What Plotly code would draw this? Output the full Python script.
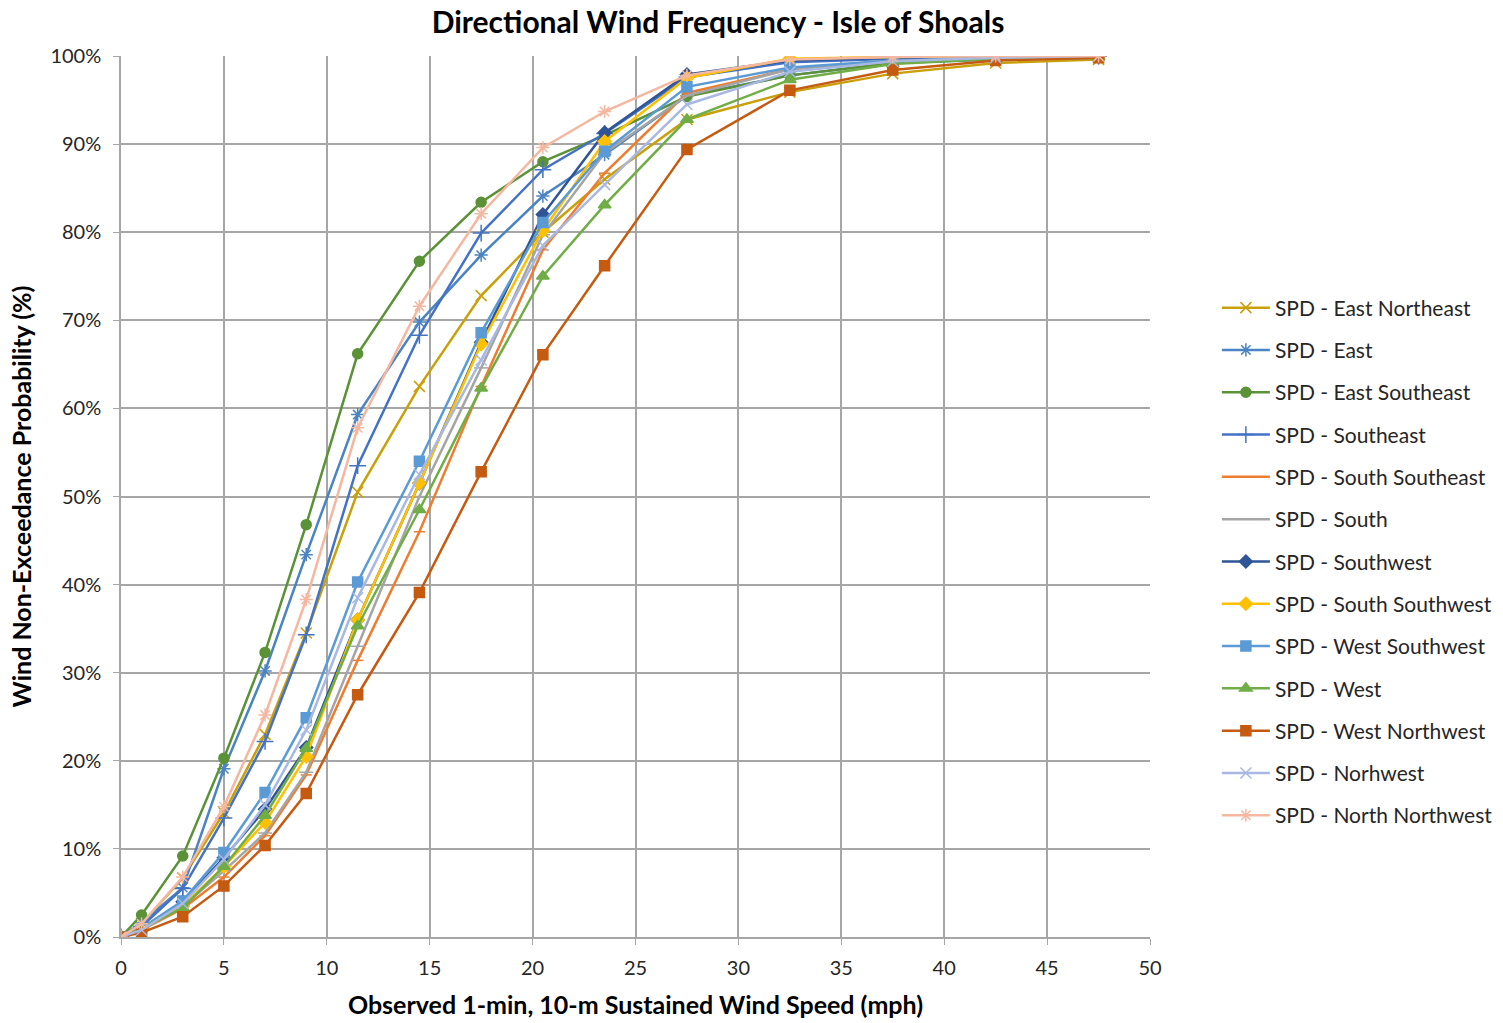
import plotly.graph_objects as go

# Wind speed bins (mph)
speed = [0, 1, 3, 5, 7, 9, 11.5, 14.5, 17.5, 20.5, 23.5, 27.5, 32.5, 37.5, 42.5, 47.5]

# Cumulative non-exceedance probability (%) by direction
east_northeast = [0, 1.5, 6.7, 14.1, 23.0, 34.5, 50.5, 62.5, 72.8, 80.0, 86.0, 92.8, 95.9, 98.0, 99.2, 99.6]
east = [0, 1.6, 5.6, 19.1, 30.2, 43.4, 59.3, 69.8, 77.4, 84.1, 88.8, 95.5, 97.8, 99.2, 99.6, 99.8]
east_southeast = [0, 2.5, 9.2, 20.3, 32.3, 46.8, 66.2, 76.7, 83.4, 88.0, 91.0, 95.4, 97.8, 99.2, 99.7, 99.9]
southeast = [0, 1.2, 5.5, 13.5, 22.2, 34.3, 53.5, 68.3, 79.9, 87.1, 91.2, 97.6, 99.3, 99.7, 99.9, 100]
south_southeast = [0, 0.8, 3.2, 6.8, 11.5, 18.4, 31.4, 46.0, 62.5, 78.0, 86.7, 95.8, 98.5, 99.5, 99.8, 100]
south = [0, 0.8, 3.5, 7.5, 11.8, 18.7, 33.0, 50.0, 64.6, 79.7, 89.0, 95.5, 98.5, 99.4, 99.8, 100]
southwest = [0, 1.0, 4.0, 9.0, 14.5, 21.5, 36.0, 51.5, 67.5, 82.0, 91.3, 97.9, 99.5, 99.8, 99.9, 100]
south_southwest = [0, 1.0, 3.5, 8.0, 13.0, 20.5, 36.0, 51.5, 67.3, 80.2, 90.3, 97.5, 99.7, 99.9, 100, 100]
west_southwest = [0, 1.0, 4.1, 9.6, 16.4, 24.9, 40.3, 54.0, 68.6, 81.1, 89.2, 96.5, 98.7, 99.5, 99.8, 100]
west = [0, 1.0, 3.3, 8.0, 13.8, 21.4, 35.3, 48.5, 62.3, 75.0, 83.1, 92.8, 97.3, 99.1, 99.7, 99.9]
west_northwest = [0, 0.5, 2.3, 5.8, 10.4, 16.3, 27.5, 39.1, 52.8, 66.1, 76.2, 89.4, 96.1, 98.4, 99.5, 99.8]
northwest = [0, 0.8, 3.8, 8.8, 15.0, 23.5, 38.5, 52.5, 65.5, 78.5, 85.4, 94.5, 98.2, 99.4, 99.8, 100]
north_northwest = [0, 1.5, 6.8, 14.8, 25.2, 38.3, 57.8, 71.6, 82.1, 89.6, 93.7, 97.8, 99.6, 99.9, 100, 100]

series = [
    ("SPD - East Northeast", east_northeast, "#C9A00A", "x-thin-open", 11),
    ("SPD - East", east, "#4A84C2", "asterisk-open", 11),
    ("SPD - East Southeast", east_southeast, "#5B9237", "circle", 10),
    ("SPD - Southeast", southeast, "#4472C4", "cross-thin-open", 12),
    ("SPD - South Southeast", south_southeast, "#ED7D31", "line-ew-open", 8),
    ("SPD - South", south, "#A5A5A5", "line-ew-open", 10),
    ("SPD - Southwest", southwest, "#2F5597", "diamond", 10),
    ("SPD - South Southwest", south_southwest, "#FFC000", "diamond", 10),
    ("SPD - West Southwest", west_southwest, "#5B9BD5", "square", 10),
    ("SPD - West", west, "#70AD47", "triangle-up", 11),
    ("SPD - West Northwest", west_northwest, "#C55A11", "square", 10),
    ("SPD - Norhwest", northwest, "#A9B8E2", "x-thin-open", 11),
    ("SPD - North Northwest", north_northwest, "#F4B7A0", "asterisk-open", 11),
]

fig = go.Figure()
for i, (name, vals, color, symbol, size) in enumerate(series):
    fig.add_trace(go.Scatter(
        x=speed,
        y=[v / 100 for v in vals],
        name=name,
        legendgroup=f"g{i}",
        mode="lines+markers",
        line=dict(color=color, width=2.5),
        marker=dict(symbol=symbol, size=size, color=color,
                    line=dict(color=color, width=1.5)),
    ))

grid = "#A6A6A6"
fig.update_layout(
    width=1503,
    height=1023,
    paper_bgcolor="white",
    plot_bgcolor="white",
    margin=dict(l=121, r=353, t=56, b=86, autoexpand=False),
    font=dict(family="Lato, 'Open Sans', sans-serif", color="#262626"),
    title=dict(
        text="<b>Directional Wind Frequency - Isle of Shoals</b>",
        x=718 / 1503,
        xanchor="center",
        y=1 - 22 / 1023,
        yanchor="middle",
        font=dict(size=30, color="#000000"),
    ),
    xaxis=dict(
        range=[0, 50],
        dtick=5,
        tick0=0,
        showgrid=True,
        gridcolor=grid,
        gridwidth=1.5,
        showline=True,
        linecolor=grid,
        linewidth=1.5,
        ticks="outside",
        ticklen=6,
        tickcolor=grid,
        zeroline=False,
        ticklabelstandoff=6,
        tickfont=dict(size=20, color="#262626"),
        title=dict(
            text="<b>Observed 1-min, 10-m Sustained Wind Speed (mph)</b>",
            font=dict(size=25, color="#000000"),
            standoff=19,
        ),
    ),
    yaxis=dict(
        range=[0, 1],
        dtick=0.1,
        tickformat=".0%",
        showgrid=True,
        gridcolor=grid,
        gridwidth=1.5,
        showline=True,
        linecolor=grid,
        linewidth=1.5,
        ticks="outside",
        ticklen=6,
        tickcolor=grid,
        zeroline=False,
        ticklabelstandoff=8,
        tickfont=dict(size=20, color="#262626"),
        title=dict(
            text="<b>Wind Non-Exceedance Probability (%)</b>",
            font=dict(size=25, color="#000000"),
            standoff=12,
        ),
    ),
    legend=dict(
        x=1.065,
        xanchor="left",
        y=(937 - 561.5) / 881,
        yanchor="middle",
        tracegroupgap=12,
        font=dict(size=21, color="#262626"),
        bgcolor="rgba(0,0,0,0)",
        itemwidth=48,
    ),
    showlegend=True,
)

fig.write_html("out.html")
